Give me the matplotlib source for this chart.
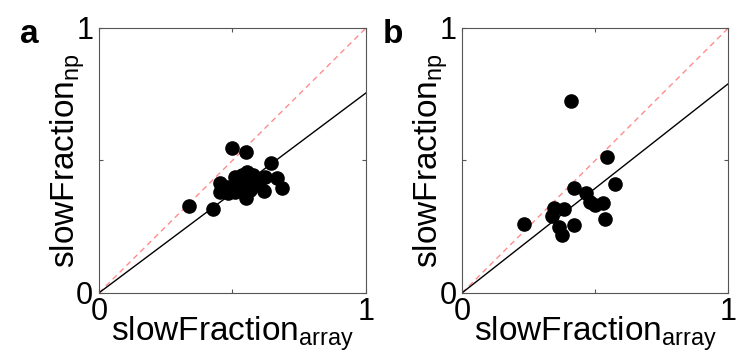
import numpy as np
import matplotlib.pyplot as plt

plt.rcParams['font.family'] = ['Liberation Sans', 'DejaVu Sans']
plt.rcParams['mathtext.fontset'] = 'custom'
plt.rcParams['mathtext.rm'] = 'Liberation Sans'

# panel a
xa = [0.337, 0.428, 0.497, 0.551, 0.643, 0.665, 0.684, 0.618, 0.551, 0.453,
      0.453, 0.484, 0.509, 0.509, 0.553, 0.553, 0.578, 0.584, 0.622, 0.528,
      0.478, 0.566, 0.500, 0.535, 0.600]
ya = [0.328, 0.316, 0.548, 0.532, 0.489, 0.435, 0.395, 0.386, 0.360, 0.414,
      0.382, 0.376, 0.439, 0.382, 0.458, 0.426, 0.445, 0.408, 0.439, 0.408,
      0.401, 0.389, 0.395, 0.445, 0.420]
slope_a = 0.755

# panel b
xb = [0.410, 0.546, 0.575, 0.419, 0.466, 0.481, 0.500, 0.531, 0.535, 0.234,
      0.344, 0.384, 0.338, 0.363, 0.375, 0.419]
yb = [0.726, 0.514, 0.410, 0.397, 0.378, 0.344, 0.332, 0.338, 0.279, 0.259,
      0.319, 0.317, 0.290, 0.247, 0.218, 0.256]
slope_b = 0.79

fig = plt.figure(figsize=(7.38, 3.63), dpi=100)
ax1 = fig.add_axes([0.134, 0.193, 0.362, 0.730])
ax2 = fig.add_axes([0.626, 0.193, 0.361, 0.730])

for ax, x, y, k, lab in [(ax1, xa, ya, slope_a, 'a'), (ax2, xb, yb, slope_b, 'b')]:
    ax.plot([0, 1], [0, 1], '--', color='#ff8c8c', lw=1, dashes=(4, 3))
    ax.plot([0, 1], [0, k], '-', color='black', lw=1)
    ax.plot(x, y, 'o', color='black', markersize=9.5, zorder=3)
    ax.set_xlim(0, 1)
    ax.set_ylim(0, 1)
    ax.set_xticks([0, 0.5, 1])
    ax.set_yticks([0, 0.5, 1])
    ax.set_xticklabels(['0', '', '1'])
    ax.set_yticklabels(['0', '', '1'])
    ax.tick_params(direction='in', top=True, right=True, labelsize=22,
                   length=3, color='#555555')
    ax.tick_params(axis='x', pad=3)
    ax.tick_params(axis='y', pad=4)
    for s in ax.spines.values():
        s.set_color('#555555')
    ax.set_xlabel(r'slowFraction$_{\mathrm{array}}$', fontsize=24, labelpad=-9)
    ax.set_ylabel(r'slowFraction$_{\mathrm{np}}$', fontsize=24, labelpad=-8)
    ax.text(-0.26, 1.035, lab, transform=ax.transAxes, fontsize=24,
            fontweight='bold', va='top', ha='center')

fig.savefig('out.png', dpi=100)
